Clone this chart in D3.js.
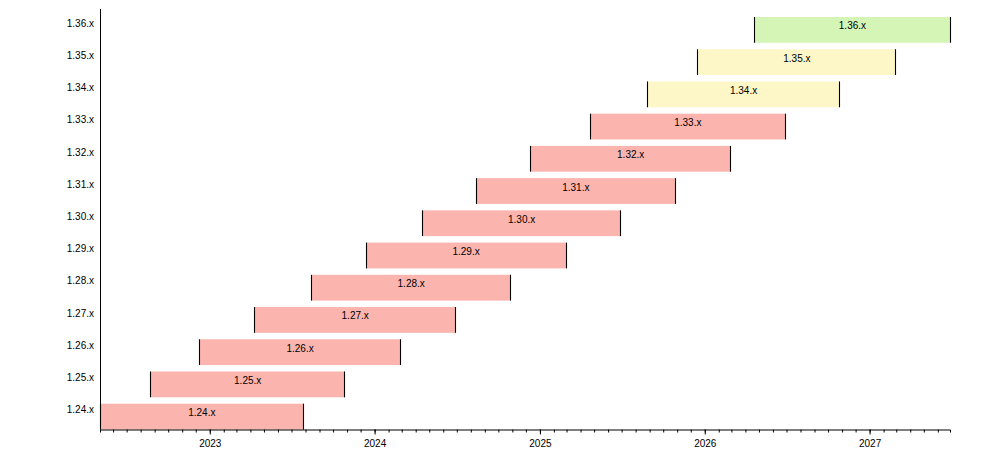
<!DOCTYPE html>
<html>
<head>
	<meta charset="utf-8">
	<title>Release timeline</title>
	<script src="https://d3js.org/d3.v7.min.js"></script>
	<style type="text/css">
		body {
			margin: 0;
			background: #fff;
			font-family: "Liberation Sans", Arial, sans-serif;
		}
		.axis text {
			font-family: "Liberation Sans", Arial, sans-serif;
			font-size: 10px;
			fill: #000;
		}
		.bar-label {
			font-size: 10px;
			fill: #000;
			text-anchor: middle;
		}
	</style>
</head>
<body>
<div id="chart"></div>
<script type="text/javascript">

// release lines, oldest first
var versions = ["1.24.x", "1.25.x", "1.26.x", "1.27.x", "1.28.x", "1.29.x", "1.30.x",
                "1.31.x", "1.32.x", "1.33.x", "1.34.x", "1.35.x", "1.36.x"];

var releaseDates = ["2022-05-03", "2022-08-23", "2022-12-09", "2023-04-11", "2023-08-15",
                    "2023-12-13", "2024-04-17", "2024-08-13", "2024-12-11", "2025-04-23",
                    "2025-08-27", "2025-12-17", "2026-04-22"];

var endDates = ["2023-07-28", "2023-10-27", "2024-02-28", "2024-06-28", "2024-10-28",
                "2025-02-28", "2025-06-28", "2025-10-28", "2026-02-28", "2026-06-28",
                "2026-10-27", "2027-02-28", "2027-06-28"];

// (window.status is a string property, so not called "status")
var releaseStatus = ["eol", "eol", "eol", "eol", "eol", "eol", "eol",
                     "eol", "eol", "eol", "maintenance", "maintenance", "upcoming"];

var statusColors = { eol: "#fbb4ae", maintenance: "#fdf7c8", upcoming: "#d4f5b6" };

var width = 1000,
    height = 458;

// note: "top" is taken by window.top, so use plot* names
var plotLeft = 100, plotRight = 950, plotTop = 17, plotBottom = 429.5, axisTop = 9;

var parse = d3.timeParse("%Y-%m-%d");

var rows = versions.map(function (v, i) {
	return { name: v, start: parse(releaseDates[i]), end: parse(endDates[i]), status: releaseStatus[i] };
});

var x = d3.scaleTime()
	.domain([d3.min(rows, function (d) { return d.start; }), d3.max(rows, function (d) { return d.end; })])
	.range([plotLeft, plotRight]);

var y = d3.scaleBand()
	.domain(versions.slice().reverse())
	.range([plotTop, plotBottom])
	.paddingInner(0.2)
	.paddingOuter(0);

var svg = d3.select("#chart").append("svg")
	.attr("width", width)
	.attr("height", height);

// bars
var g = svg.append("g");

g.selectAll("rect")
	.data(rows).enter()
	.append("rect")
	.attr("x", function (d) { return x(d.start); })
	.attr("y", function (d) { return y(d.name); })
	.attr("width", function (d) { return x(d.end) - x(d.start); })
	.attr("height", y.bandwidth())
	.attr("fill", function (d) { return statusColors[d.status]; });

// black marks at start and end of each bar
rows.forEach(function (d) {
	[d.start, d.end].forEach(function (t) {
		var px = Math.floor(x(t)) + 0.5;
		g.append("line")
			.attr("x1", px).attr("x2", px)
			.attr("y1", y(d.name)).attr("y2", y(d.name) + y.bandwidth())
			.attr("stroke", "#000")
			.attr("stroke-width", 1.1);
	});
});

g.selectAll("text.bar-label")
	.data(rows).enter()
	.append("text")
	.attr("class", "bar-label")
	.attr("x", function (d) { return (x(d.start) + x(d.end)) / 2; })
	.attr("y", function (d) { return y(d.name) + y.bandwidth() / 2 - 0.5; })
	.text(function (d) { return d.name; });

// x axis: monthly minor ticks, yearly labels
svg.append("g")
	.attr("class", "axis")
	.attr("transform", "translate(0," + plotBottom + ")")
	.call(d3.axisBottom(x).ticks(d3.timeMonth.every(1)).tickSize(3).tickSizeOuter(3).tickFormat(""));

svg.append("g")
	.attr("class", "axis")
	.attr("transform", "translate(0," + plotBottom + ")")
	.call(d3.axisBottom(x).ticks(d3.timeYear.every(1)).tickSize(5).tickSizeOuter(0).tickPadding(5)
		.tickFormat(d3.timeFormat("%Y")))
	.call(function (a) { a.select(".domain").remove(); });

// y axis
var yAxis = svg.append("g")
	.attr("class", "axis")
	.attr("transform", "translate(" + plotLeft + ",0)")
	.call(d3.axisLeft(y).tickSize(0).tickPadding(6).tickSizeOuter(0));

yAxis.select(".domain").attr("d", "M0.5," + axisTop + "V" + plotBottom);
yAxis.selectAll(".tick text").attr("dy", "-0.33em");

</script>
</body>
</html>
